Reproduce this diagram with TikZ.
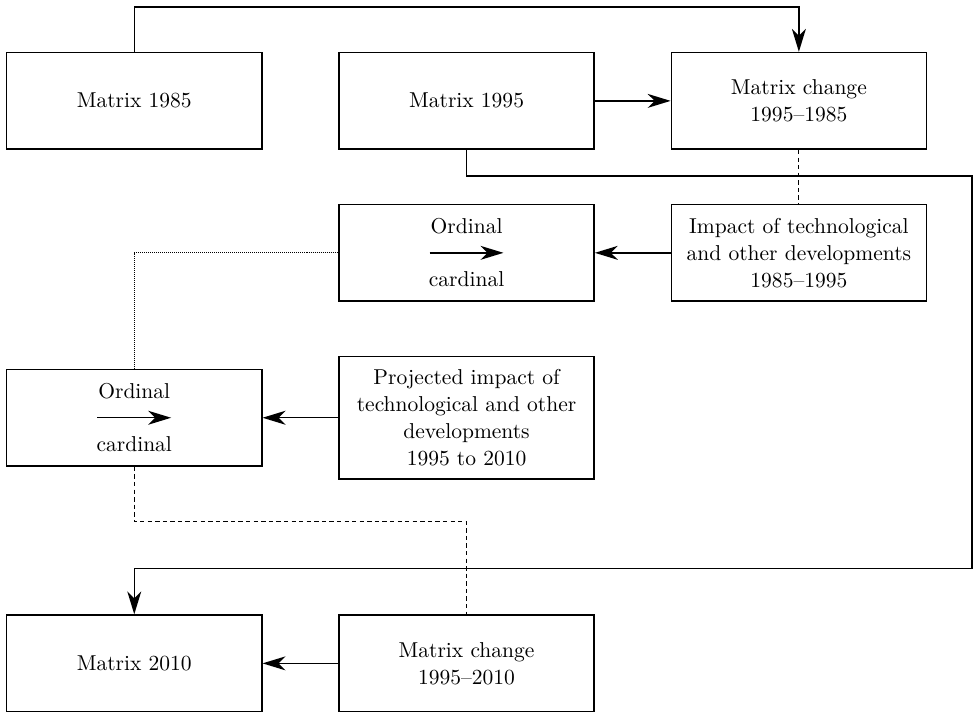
\documentclass[tikz,border=0pt]{standalone}
\usepackage{amsmath}
\usetikzlibrary{calc}
\usetikzlibrary{positioning}
\usetikzlibrary{arrows.meta}

\begin{document}
\begin{tikzpicture}[
  every node/.style={draw, align=center, minimum width=128pt, minimum height=48.5pt,
    inner sep=2pt, font=\fontsize{10.8}{13.5}\selectfont},
  every path/.style={line width=0.75pt},
  node distance=27pt and 38pt,
  tall/.style={minimum height=61.5pt},
  ar/.style={-{Stealth[length=11.5pt,width=7pt,inset=3.5pt]}},
  dsh/.style={dash pattern=on 2.2pt off 1.6pt, line width=0.6pt},
  dts/.style={dash pattern=on 0.45pt off 0.55pt, line width=0.6pt},
  auto
  ] %
    % top row
    \node(m85){Matrix 1985};
    \node[right=of m85](m95){Matrix 1995};
    \node[right=of m95](mc85){Matrix change\\1995--1985};
    % second row
    \node[below=of m95](ord1){Ordinal\\[13pt]cardinal};
    \node[right=of ord1](imp){Impact of technological\\and other developments\\1985--1995};
    % third row
    \node[tall,below=of ord1](proj){Projected impact of\\technological and other\\developments\\1995 to 2010};
    \node[left=of proj](ord2){Ordinal\\[13pt]cardinal};
    % bottom row
    \node[below=67.5pt of proj](mc10){Matrix change\\1995--2010};
    \node[left=of mc10](m10){Matrix 2010};
    %\node[right=of mc10](x){};
    \coordinate (ne) at ($(mc85.east |- m95.south)+(22.5pt,-13pt)$);
    \coordinate (se) at ($(ne |- m10.north)+(0,23pt)$);
    \draw[ar] (m85.north) -- ++(0,22.5pt) -| (mc85.north);
    \draw[ar] (m95) -- (mc85);
    \draw[ar] (m95.south) |- (ne) -- (se) -| (m10.north);
    \draw[dsh] (mc85.south) -- (imp.north);
    \draw[ar] (imp) -- (ord1);
    \draw[ar] ([xshift=-18.5pt]ord1.center) -- ([xshift=18.5pt]ord1.center);
    \draw[dts] (ord1.west) -| (ord2.north);
    \draw[ar] (proj.west) -- (proj.west -| ord2.east);
    \draw[ar] ([xshift=-18.5pt]ord2.center) -- ([xshift=18.5pt]ord2.center);
    \draw[dsh] (ord2.south) -- ++(0,-27.5pt) -| (mc10.north);
    \draw[ar] (mc10) -- (m10);
    \useasboundingbox ($(m85.north west)+(-3pt,26pt)$) rectangle ($(mc85.east |- m10.south)+(24pt,-0.5pt)$);
  \end{tikzpicture}
\end{document}
